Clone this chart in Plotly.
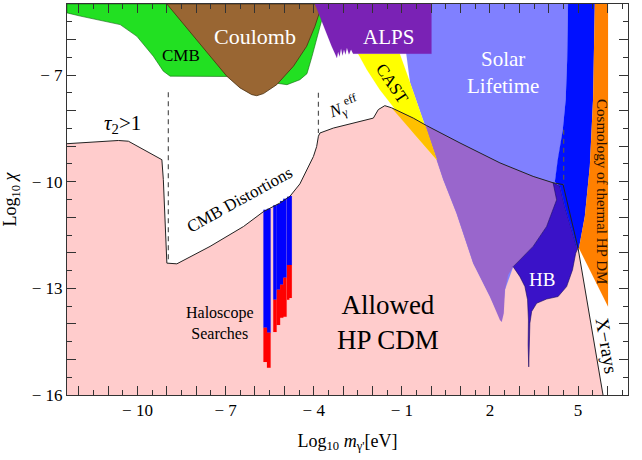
import plotly.graph_objects as go

# ---------------- data (log10 m [eV], log10 chi) ----------------
pink_x = [-12.40, -12.40, -10.65, -10.31, -9.17, -9.12, -9.06, -9.00, -8.66, -7.53, -6.39, -5.71, -5.15,
          -4.81, -4.47, -4.24, -4.01, -3.90, -3.84, -3.79, -3.33, -1.97, -1.80, -1.58, -1.35, -0.61,
          -0.16, 0.98, 2.34, 3.47, 4.15, 4.49, 5.00, 5.85]
pink_y = [-16.0, -8.93, -8.84, -8.86, -9.38, -9.94, -11.07, -12.29, -12.31, -11.82, -11.26, -10.84, -10.60,
          -10.41, -10.06, -9.66, -9.29, -9.01, -8.72, -8.63, -8.49, -8.21, -7.97, -7.86, -7.92, -8.21,
          -8.42, -8.91, -9.47, -9.85, -10.03, -10.08, -11.87, -16.0]

green_x = [-12.40, -12.40, -11.95, -11.50, -10.59, -10.02, -9.46, -9.12, -8.89, -6.85, -5.66, -4.91,
           -4.47, -4.23, -4.06, -3.85, -3.68, -3.58]
green_y = [-5.0, -5.25, -5.34, -5.42, -5.58, -5.91, -6.47, -6.89, -7.03, -7.04, -7.18, -7.27,
           -7.13, -6.96, -6.48, -5.86, -5.35, -5.0]

coul_x = [-9.0, -6.96, -6.51, -6.11, -5.94, -5.71, -5.26, -4.69, -4.24, -3.96, -3.81, -3.79]
coul_y = [-5.0, -7.03, -7.36, -7.55, -7.58, -7.52, -7.27, -6.75, -6.19, -5.63, -5.25, -5.0]

alps_x = [-3.96, -3.67, -3.39, -3.21, -3.17, -3.12, -3.07, -3.02, -2.97, -2.92, -2.87, -2.80, -2.73,
          -2.66, 0.01, 0.01]
alps_y = [-5.0, -5.63, -6.19, -6.52, -6.34, -6.48, -6.25, -6.45, -6.28, -6.42, -6.23, -6.42, -6.28,
          -6.40, -6.40, -5.0]

cast_x = [-2.49, -1.07, -0.72, -0.21, 0.19, -0.55, -1.34, -1.75, -2.19]
cast_y = [-6.40, -6.40, -7.21, -8.41, -9.38, -8.68, -7.86, -7.41, -6.85]

castpink_x = [-1.35, -0.61, -0.20, 0.19, -0.55]
castpink_y = [-7.92, -8.21, -8.41, -9.38, -8.68]

solar_x = [-1.07, 4.66, 4.63, 4.58, 4.48, 4.31, 4.21, 4.38, 4.27, 3.93, 3.47, 3.02, 2.79, 2.51, 2.40,
           2.00, 1.43, 0.86, 0.41, 0.19, -0.21, -0.72]
solar_y = [-5.0, -5.0, -6.56, -7.69, -8.54, -9.38, -10.0, -10.13, -10.51, -11.26, -11.82, -12.20, -12.39,
           -13.04, -13.94, -13.23, -12.29, -10.88, -9.94, -9.38, -8.41, -7.21]

solpink_x = [-0.21, -0.16, 0.98, 2.34, 3.47, 4.15, 4.38, 4.27, 3.93, 3.47, 3.02, 2.79, 2.62, 2.51, 2.47,
             2.40, 2.34, 2.00, 1.43, 0.86, 0.41, 0.19]
solpink_y = [-8.41, -8.42, -8.91, -9.47, -9.85, -10.03, -10.13, -10.51, -11.26, -11.82, -12.20, -12.39,
             -12.62, -13.04, -13.70, -13.94, -13.89, -13.23, -12.29, -10.88, -9.94, -9.38]

hb_x = [4.15, 4.38, 4.55, 4.78, 4.95, 5.00, 4.92, 4.81, 4.61, 4.32, 3.93, 3.59, 3.42, 3.36, 3.34, 3.32,
        3.30, 3.31, 3.28, 3.19, 3.02, 2.79, 3.02, 3.47, 3.93, 4.27]
hb_y = [-10.03, -10.13, -10.70, -11.35, -11.82, -11.86, -12.01, -12.48, -12.95, -13.23, -13.30, -13.42,
        -13.65, -13.98, -14.59, -15.21, -14.59, -13.89, -13.32, -12.95, -12.67, -12.39, -12.20, -11.82,
        -11.26, -10.51]

dark_x = [4.66, 5.57, 5.51, 5.40, 5.23, 5.03, 4.95, 4.78, 4.55, 4.38, 4.21, 4.31, 4.48, 4.58, 4.63]
dark_y = [-5.0, -5.0, -7.69, -9.57, -10.98, -11.87, -11.82, -11.35, -10.70, -10.13, -10.0, -9.38,
          -8.54, -7.69, -6.56]

cosmo_x = [5.57, 6.02, 6.02, 5.03, 5.23, 5.40, 5.51]
cosmo_y = [-5.0, -5.0, -13.51, -11.87, -10.98, -9.57, -7.69]

xray_x = [5.00, 5.85]
xray_y = [-11.87, -16.0]

dashed_x = [-8.95, -3.84, 4.51]
dashed_top = [-7.48, -7.50, -8.54]
dashed_bottom = [-12.24, -8.63, -10.08]

halo_x = [-5.65, -5.53, -5.32, -5.20, -5.09, -4.98, -4.87, -4.79]
halo_blue_top = [-10.79, -10.76, -10.66, -10.63, -10.54, -10.48, -10.42, -10.40]
halo_blue_bot = [-14.11, -14.25, -13.32, -13.04, -12.90, -12.70, -12.34, -12.34]
halo_red_bot = [-15.07, -15.23, -14.23, -14.03, -13.83, -13.80, -13.32, -13.27]
halo_width = [0.125, 0.125, 0.115, 0.113, 0.112, 0.116, 0.08, 0.09]

x_labels = {-10: "− 10", -7: "− 7", -4: "− 4", -1: "− 1", 2: "2", 5: "5"}
y_labels = {-16: "− 16", -13: "− 13", -10: "− 10", -7: "− 7"}

SERIF = "Liberation Serif"

fig = go.Figure()


def region(xs, ys, color, line_color=None, lw=0.0):
    fig.add_trace(go.Scatter(
        x=list(xs) + [xs[0]], y=list(ys) + [ys[0]], mode="lines", fill="toself",
        fillcolor=color,
        line=dict(color=line_color or color, width=lw if lw > 0 else 0.1),
        hoverinfo="skip", showlegend=False))


def bars(centers, widths, tops, bottoms, color):
    xs, ys = [], []
    for c, w, t, b in zip(centers, widths, tops, bottoms):
        x0, x1 = c - w / 2, c + w / 2
        xs += [x0, x1, x1, x0, x0, None]
        ys += [b, b, t, t, b, None]
    fig.add_trace(go.Scatter(x=xs, y=ys, mode="lines", fill="toself", fillcolor=color,
                             line=dict(color=color, width=0.1), hoverinfo="skip",
                             showlegend=False))


region(pink_x, pink_y, "#FFCCCC")
region(solar_x, solar_y, "#8080FF")
region(solpink_x, solpink_y, "#9966CC")
region(cast_x, cast_y, "#FFFF00")
region(castpink_x, castpink_y, "#FFC000")
region(hb_x, hb_y, "#3A12C8", "#1a0a60", 0.6)
region(dark_x, dark_y, "#0010FF")
region(cosmo_x, cosmo_y, "#FF8000")
region(green_x, green_y, "#22E022", "#116611", 0.6)
region(coul_x, coul_y, "#996633", "#4a3010", 0.8)
region(alps_x, alps_y, "#7A22B5")

# haloscope searches
bars(halo_x, halo_width, halo_blue_top, halo_blue_bot, "#0000FF")
bars(halo_x, halo_width, halo_blue_bot, halo_red_bot, "#FF0000")

# boundary of the allowed region
fig.add_trace(go.Scatter(x=pink_x[1:-1], y=pink_y[1:-1], mode="lines",
                         line=dict(color="#222222", width=1), hoverinfo="skip", showlegend=False))
fig.add_trace(go.Scatter(x=xray_x, y=xray_y, mode="lines",
                         line=dict(color="#222222", width=1), hoverinfo="skip", showlegend=False))

for dx, t, b in zip(dashed_x, dashed_top, dashed_bottom):
    fig.add_trace(go.Scatter(x=[dx, dx], y=[t, b], mode="lines",
                             line=dict(color="#555555", width=1.2, dash="5px,4px"),
                             hoverinfo="skip", showlegend=False))

anns = [
    ("CMB", -8.51, -6.45, 17, "black", 0),
    ("Coulomb", -5.99, -5.92, 22, "white", 0),
    ("ALPS", -1.47, -5.92, 21, "white", 0),
    ("Solar<br>Lifetime", 2.46, -6.93, 21, "white", 0),
    ("CAST", -1.34, -7.24, 17, "black", 56),
    ("<i>N</i><sub>γ</sub><sup>eff</sup>", -3.00, -7.90, 17, "black", -20),
    ("<i>τ</i><sub>2</sub>>1", -10.52, -8.37, 21, "black", 0),
    ("CMB Distortions", -6.51, -10.51, 17, "black", -29),
    ("Haloscope<br>Searches", -7.19, -13.97, 16, "black", 0),
    ("Allowed<br>HP CDM", -1.47, -13.96, 27, "black", 0),
    ("HB", 3.76, -12.76, 19, "white", 0),
    ("Cosmology of thermal HP DM", 5.79, -10.27, 15, "#2a1000", 90),
    ("X−rays", 5.96, -14.62, 19, "black", 80),
]
for txt, ax, ay, fs, col, ang in anns:
    fig.add_annotation(x=ax, y=ay, xref="x", yref="y", text=txt, showarrow=False,
                       textangle=ang, font=dict(family=SERIF, size=fs, color=col))

xt = list(range(-12, 7))
yt = list(range(-16, -4))
axis_common = dict(showline=True, linecolor="#333333", linewidth=1, mirror="allticks",
                   ticks="inside", ticklen=9, tickcolor="#333333", tickwidth=1,
                   showgrid=False, zeroline=False,
                   tickfont=dict(family=SERIF, size=17, color="black"),
                   minor=dict(ticks="inside", dtick=0.5, tick0=0, ticklen=5,
                              tickcolor="#333333", tickwidth=1, showgrid=False))

fig.update_xaxes(range=[-12.4, 6.7], tickmode="array", tickvals=xt,
                 ticktext=[x_labels.get(v, "") for v in xt],
                 title=dict(text="Log<sub>10</sub> <i>m</i><sub>γ'</sub>[eV]",
                            font=dict(family=SERIF, size=18, color="black"), standoff=14),
                 **axis_common)
fig.update_yaxes(range=[-16, -5], tickmode="array", tickvals=yt,
                 ticktext=[y_labels.get(v, "") for v in yt],
                 title=dict(text="Log<sub>10</sub> <i>χ</i>",
                            font=dict(family=SERIF, size=18, color="black"), standoff=10),
                 **axis_common)

fig.update_layout(width=642, height=460, margin=dict(l=67, r=14, t=4, b=65),
                  plot_bgcolor="white", paper_bgcolor="white",
                  font=dict(family=SERIF))

fig.write_html("out.html")
